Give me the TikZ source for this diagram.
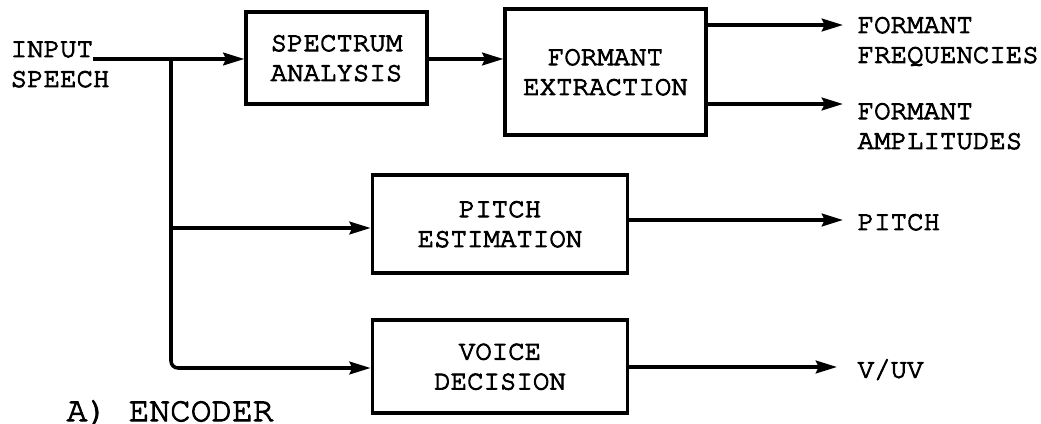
\documentclass[tikz,border=0pt]{standalone}
\usepackage[T1]{fontenc}
\renewcommand{\rmdefault}{pcr}
\usetikzlibrary{arrows.meta,positioning}
% slightly heavier typewriter text: fill and stroke the glyphs
\newcommand{\heavytext}{\special{pdf:literal direct 2 Tr 0.28 w}}
\begin{document}
\begin{tikzpicture}[x=0.01cm, y=-0.01cm,
  blk/.style={draw, rectangle, line width=0.9pt, align=center, inner sep=0pt, font=\fontsize{7.8}{8.5}\selectfont\heavytext},
  lbl/.style={inner sep=0pt, align=left, font=\fontsize{7.8}{8.5}\selectfont\heavytext},
  sig/.style={line width=1pt, -{Stealth[length=6pt, width=3.6pt, inset=0.8pt]}}]
\useasboundingbox (0,0) rectangle (1041,424);
% blocks
\node (spec) [blk, minimum width=1.81cm, minimum height=0.92cm] at (336.5,58) {SPECTRUM\\ANALYSIS};
\node (form) [blk, minimum width=2.01cm, minimum height=1.26cm] at (605.5,72) {FORMANT\\EXTRACTION};
\node (pitch) [blk, minimum width=2.555cm, minimum height=0.98cm] at (500,224) {PITCH\\ESTIMATION};
\node (voice) [blk, minimum width=2.555cm, minimum height=0.93cm] at (500,366.5) {VOICE\\DECISION};
% input side
\node (input) [lbl, anchor=west] at (10,64.5) {INPUT\\SPEECH};
\coordinate (src) at (93,59);
\coordinate (jn) at (171,59);
\coordinate (pin) at (171,228);
\draw [sig] (src) -- (spec.west |- src);
\draw [sig] (spec.east |- src) -- (form.west |- src);
\draw [sig] (pin) -- (pitch.west |- pin);
\draw [sig, rounded corners=2pt] (jn) |- (voice.west |- 0,368);
% outputs
\coordinate (ff) at (843,25);
\coordinate (fa) at (843,104);
\coordinate (ptip) at (843,220);
\coordinate (vtip) at (837,367);
\draw [sig] (form.east |- ff) -- (ff);
\draw [sig] (form.east |- fa) -- (fa);
\draw [sig] (pitch.east |- ptip) -- (ptip);
\draw [sig] (voice.east |- vtip) -- (vtip);
\node (freq) [lbl, right=0.14cm of ff, yshift=-0.165cm] {FORMANT\\FREQUENCIES};
\node (ampl) [lbl, right=0.14cm of fa, yshift=-0.22cm] {FORMANT\\AMPLITUDES};
\node (pout) [lbl, right=0.14cm of ptip, yshift=-0.02cm] {PITCH};
\node (vout) [lbl, right=0.2cm of vtip, yshift=-0.03cm] {V/UV};
\node (enc) [anchor=west, inner sep=0pt, font=\fontsize{9.8}{12}\selectfont\heavytext] at (66,412) {A) ENCODER};
\end{tikzpicture}
\end{document}
